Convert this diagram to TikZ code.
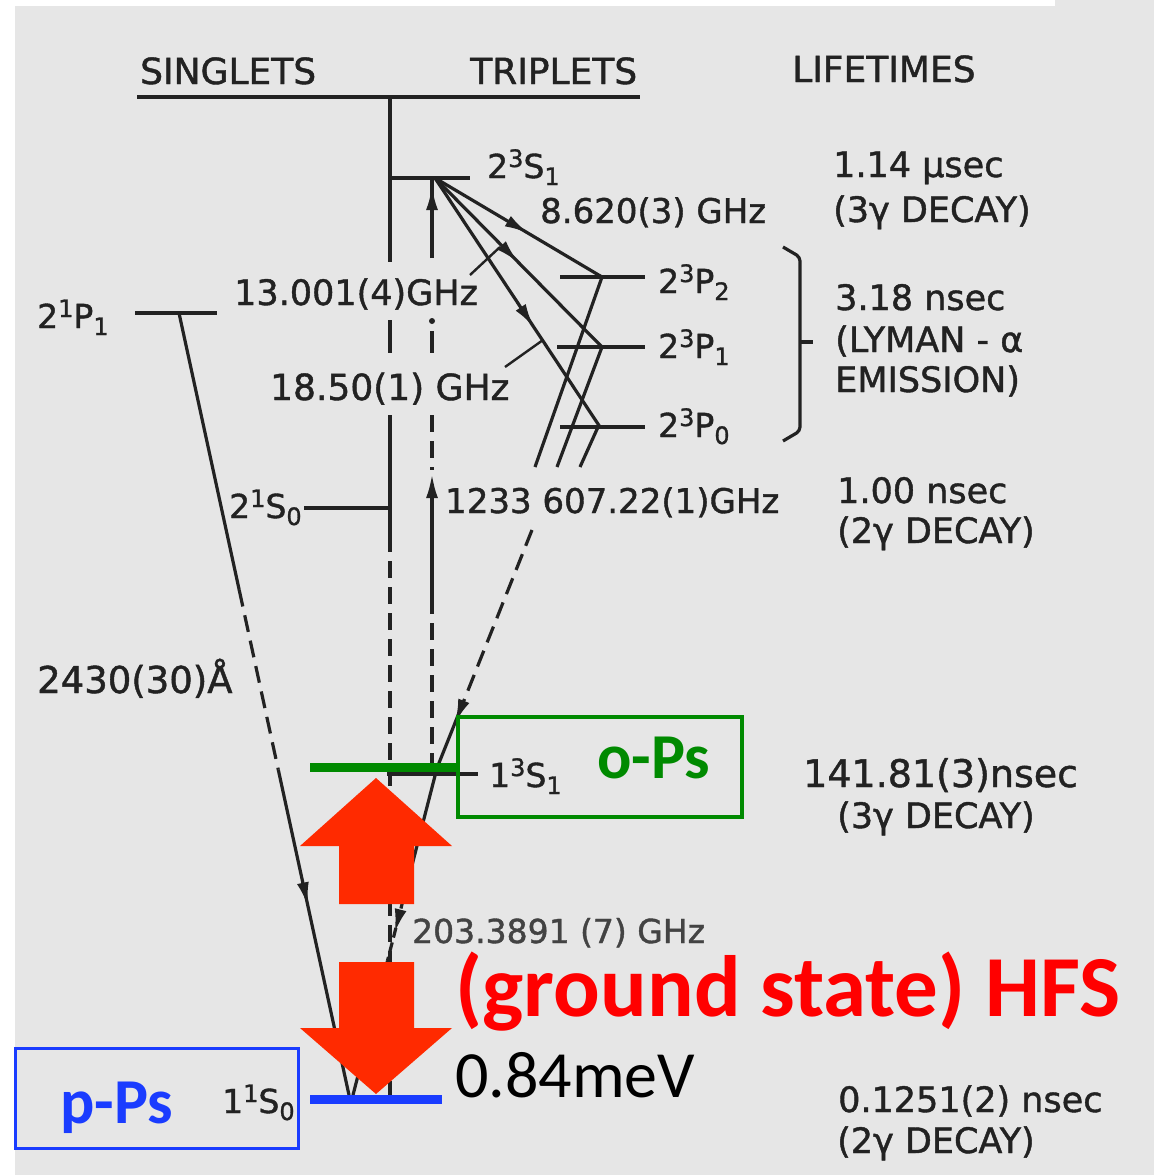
\documentclass[tikz,border=0pt]{standalone}
\usepackage{fontspec}
\setmainfont[FakeBold=1.2]{DejaVu Sans}
\newfontfamily\slidefont{Carlito}
\usetikzlibrary{arrows.meta,calc,decorations.markings}
\definecolor{scan}{HTML}{E6E6E6}
\definecolor{ink}{HTML}{222222}
\definecolor{hfsarrow}{HTML}{FF2A00}
\definecolor{hfstext}{HTML}{FF0000}
\definecolor{ops}{HTML}{008A00}
\definecolor{pps}{HTML}{1A3CFF}
\newcommand\fsz[1]{\fontsize{#1}{#1}\selectfont}
\newcommand\term[4]{#1\raisebox{11pt}{\fsz{24}#2}#3\raisebox{-7pt}{\fsz{24}#4}}

\begin{document}
\begin{tikzpicture}[x=1pt,y=-1pt,
    lvl/.style={draw=ink,line width=3.4pt},
    tr/.style={draw=ink,line width=3.2pt},
    dsh/.style={tr,dash pattern=on 17pt off 9pt},
    arr/.style={-{Latex[length=24pt,width=12pt]}},
    midarr/.style={postaction={decorate},decoration={markings,
      mark=at position #1 with {\arrow{Latex[length=24pt,width=12pt]}}}},
    txt/.style={inner sep=0pt,anchor=base west,text=ink,font=\fsz{35}},
    lab/.style={txt,font=\fsz{33}},
    slide/.style={inner sep=0pt,anchor=base west,font=\slidefont\bfseries\fsz{64}}]

  \useasboundingbox (0,0) rectangle (1154,1175);
  \fill[white] (0,0) rectangle (1154,1175);
  \fill[scan] (15,6) rectangle (1154,1175);
  \fill[scan] (1055,0) rectangle (1154,6);

  \node[txt,font=\fsz{36}] (sing) at (140,84) {SINGLETS};
  \node[txt,font=\fsz{36}] (trip) at (470,84) {TRIPLETS};
  \node[txt,font=\fsz{36}] (life) at (792,82) {LIFETIMES};
  \draw[lvl] (137,97) -- (640,97);

  \foreach \n/\xa/\xb/\y in {P1s/135/217/313, S2s/304/390/508, S2t/390/470/178,
      P2/560/645/277, P1/557/645/347, P0/560/645/427, S1t/387/478/774, S1s/310/440/1100}{
    \coordinate (\n-w) at (\xa,\y);
    \coordinate (\n-e) at (\xb,\y);
    \draw[lvl] (\n-w) -- (\n-e);}

  \node[lab] (lP1s) at (37,328) {\term{2}{1}{P}{1}};
  \node[lab] (lS2s) at (229,518) {\term{2}{1}{S}{0}};
  \node[lab] (lS2t) at (487,178) {\term{2}{3}{S}{1}};
  \node[lab] (lP2) at (658,293) {\term{2}{3}{P}{2}};
  \node[lab] (lP1) at (658,358) {\term{2}{3}{P}{1}};
  \node[lab] (lP0) at (658,437) {\term{2}{3}{P}{0}};
  \node[lab] (lS1t) at (489,787) {\term{1}{3}{S}{1}};
  \node[lab] (lS1s) at (222,1113) {\term{1}{1}{S}{0}};

  \node[txt] (f13) at (234,305) {13.001(4)GHz};
  \node[txt,font=\fsz{36}] (f18) at (270,400) {18.50(1) GHz};
  \node[txt,font=\fsz{34}] (f8) at (540,223) {8.620(3) GHz};
  \node[txt,font=\fsz{34}] (f12) at (445,513) {1233 607.22(1)GHz};
  \node[txt,text=ink!85,font=\fsz{33}] (f203) at (412,943) {203.3891 (7) GHz};
  \node[txt,font=\fsz{37}] (wl) at (37,693) {2430(30)Å};
  \draw[tr,line width=2.4pt] (470,275) -- (500,247);
  \draw[tr,line width=2.4pt] (505,367) -- (543,340);

  \foreach \x/\y/\t [count=\i] in {833/177/1.14 μsec, 833/222/(3γ DECAY),
      835/310/3.18 nsec, 835/352/(LYMAN - α, 835/392/EMISSION),
      837/503/1.00 nsec, 837/543/(2γ DECAY), 837/828/(3γ DECAY),
      838/1112/0.1251(2) nsec, 837/1153/(2γ DECAY)}
    \node[txt] (t\i) at (\x,\y) {\t};
  \node[txt,font=\fsz{38}] (t0) at (803,787) {141.81(3)nsec};
  \draw[tr,rounded corners=4pt] (783,247) -- (800,257) -- (800,431) -- (783,441);
  \draw[tr] (800,342) -- (813,342);

  \draw[tr] (390,97) -- (390,262) (390,320) -- (390,353) (390,415) -- (390,535);
  \draw[dsh] (390,535) -- (390,1095);

  \coordinate (vt) at (432,178);
  \coordinate (vb) at (432,765);
  \draw[tr,midarr=0.9] (432,258) -- (vt);
  \fill[ink] (432,321) circle (3pt);
  \draw[tr] (432,331) -- (432,353);
  \draw[dsh] (432,415) -- (432,470);
  \draw[tr,arr] (432,597) -- (432,474);
  \draw[dsh] (432,597) -- (vb);

  \coordinate (O) at (435,178);
  \coordinate (a2) at (602,277);
  \coordinate (a1) at (602,347);
  \coordinate (a0) at (600,427);
  \draw[tr,midarr=0.56] (O) -- (a2);
  \draw[tr,midarr=0.5] (O) -- (a1);
  \draw[tr,midarr=0.6] (O) -- (a0);
  \draw[tr] (a2) -- (535,467) (a1) -- (557,467) (598,427) -- (580,467);

  \coordinate (ly) at (532,530);
  \coordinate (g3) at (437,768);
  \coordinate (g1) at (353,1095);
  \draw[dsh] (ly) -- ($(ly)!0.71!(g3)$);
  \draw[tr,midarr=0.35] ($(ly)!0.71!(g3)$) -- (g3);
  \draw[tr] (g3) -- ($(g3)!0.40!(g1)$);
  \draw[tr,dash pattern=on 10pt off 5pt,midarr=0.55] ($(g3)!0.40!(g1)$) -- ($(g3)!0.59!(g1)$);
  \draw[tr] ($(g3)!0.59!(g1)$) -- (g1);

  \coordinate (pA) at (179,313);
  \coordinate (pB) at (349,1095);
  \draw[tr] (pA) -- ($(pA)!0.354!(pB)$);
  \draw[dsh] ($(pA)!0.354!(pB)$) -- ($(pA)!0.584!(pB)$);
  \draw[tr,midarr=0.42] ($(pA)!0.584!(pB)$) -- (pB);

  \fill[hfsarrow] (376,778) -- (452,846) -- (414,846) -- (414,904) -- (339,904)
    -- (339,846) -- (300,846) -- cycle;
  \fill[hfsarrow] (339,962) -- (414,962) -- (414,1028) -- (452,1028) -- (376,1094)
    -- (300,1028) -- (339,1028) -- cycle;

  \draw[ops,line width=9pt] (310,767) -- (460,767);
  \draw[pps,line width=9pt] (310,1099) -- (442,1099);
  \node[draw=ops,line width=3.5pt,minimum width=284pt,minimum height=100pt,inner sep=0pt]
    (obox) at (600,767) {};
  \node[draw=pps,line width=3pt,minimum width=283pt,minimum height=100pt,inner sep=0pt]
    (pbox) at (156.5,1098) {};
  \node[slide,text=ops] (ops) at (597,778) {o-Ps};
  \node[slide,text=pps] (pps) at (60,1123) {p-Ps};
  \node[slide,text=hfstext,font=\slidefont\bfseries\fsz{87}] (hfs) at (455,1016) {(ground state) HFS};
  \node[slide,text=black,font=\slidefont\fsz{66}] (mev) at (455,1097) {0.84meV};
\end{tikzpicture}
\end{document}
